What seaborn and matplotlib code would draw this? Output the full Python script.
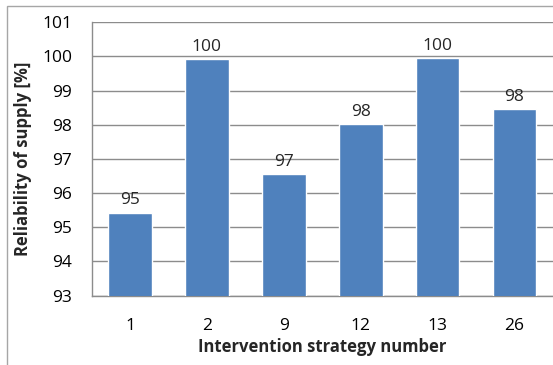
import matplotlib
matplotlib.use("Agg")
import matplotlib.pyplot as plt
from matplotlib.patches import Rectangle
import seaborn as sns
import pandas as pd

# Reliability of supply for each intervention strategy
strategies = ["1", "2", "9", "12", "13", "26"]
reliability = [95.43, 99.93, 96.56, 98.02, 99.96, 98.46]
y_ticks = [93, 94, 95, 96, 97, 98, 99, 100, 101]

df = pd.DataFrame({"strategy": strategies, "reliability": reliability})

sns.set_theme(style="white")
plt.rcParams["font.family"] = ["Open Sans", "DejaVu Sans"]

fig = plt.figure(figsize=(5.53, 3.65), dpi=100)
ax = fig.add_axes([0.1655, 0.19, 0.8345, 0.749])

sns.barplot(data=df, x="strategy", y="reliability", order=strategies,
            color="#4F81BD", saturation=1, width=0.567, ax=ax, zorder=3)

ax.set_ylim(93, 101)
ax.set_yticks(y_ticks)
ax.set_xlim(-0.5, len(strategies) - 0.5)

grid_c = "#8C8C8C"
ax.yaxis.grid(True, color=grid_c, linewidth=1.0, zorder=0)
ax.set_axisbelow(True)
for s in ["top", "right"]:
    ax.spines[s].set_visible(False)
for s in ["left", "bottom"]:
    ax.spines[s].set_color(grid_c)
    ax.spines[s].set_linewidth(1.0)

ax.tick_params(axis="both", length=0, labelsize=12.5, colors="black")
ax.tick_params(axis="y", pad=14)
ax.tick_params(axis="x", pad=16)

for cont in ax.containers:
    ax.bar_label(cont, fmt="{:.0f}", padding=3, fontsize=12.5)

ax.set_xlabel("Intervention strategy number", fontsize=12, fontweight="bold", labelpad=3)
ax.set_ylabel("Reliability of supply [%]", fontsize=12, fontweight="bold", labelpad=7)

# outer chart frame
fig.patches.append(Rectangle((7 / 553, -0.1), 1.2, 1.1 - 6.5 / 365,
                             transform=fig.transFigure, fill=False,
                             edgecolor="#A6A6A6", linewidth=1.0))

fig.savefig("out.png", dpi=100)
